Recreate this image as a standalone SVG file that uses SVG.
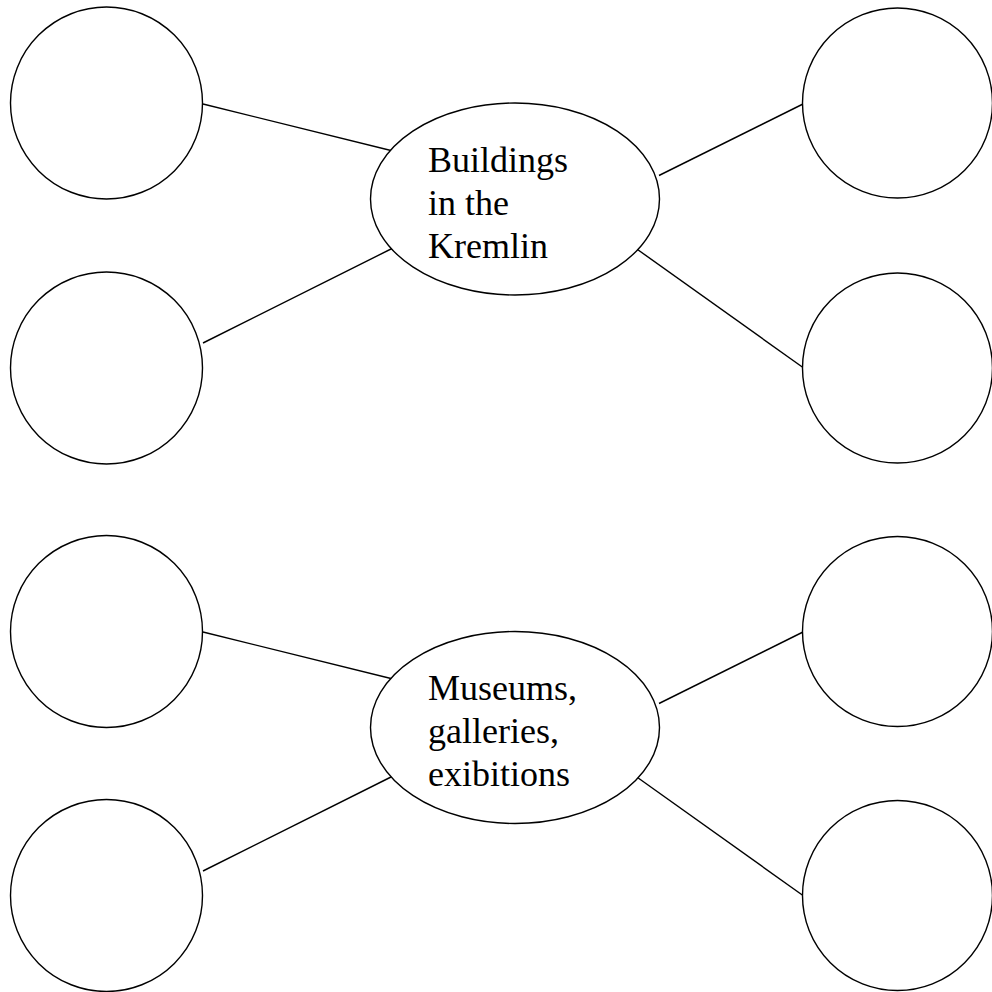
<svg xmlns="http://www.w3.org/2000/svg" width="992" height="992" viewBox="0 0 992 992">
  <style>
    .node { fill: #ffffff; stroke: #000000; stroke-width: 1.4; }
    .edge { stroke: #000000; stroke-width: 1.4; fill: none; }
    .label { font-family: "Liberation Serif", "Times New Roman", serif; font-size: 36px; fill: #000000; }
  </style>
  <rect width="992" height="992" fill="#ffffff"/>

  <!-- connectors -->
  <g id="connectors">
    <line class="edge" x1="203" y1="104" x2="395" y2="151.5"/>
    <line class="edge" x1="203" y1="343" x2="395" y2="247"/>
    <line class="edge" x1="659" y1="175.5" x2="803" y2="104"/>
    <line class="edge" x1="634" y1="247" x2="803" y2="367.5"/>

    <line class="edge" x1="203" y1="632" x2="395" y2="679.5"/>
    <line class="edge" x1="203" y1="871" x2="395" y2="775"/>
    <line class="edge" x1="659" y1="703.5" x2="803" y2="632"/>
    <line class="edge" x1="634" y1="775" x2="803" y2="895.5"/>
  </g>

  <!-- upper cluster -->
  <g id="center-kremlin">
    <ellipse class="node" cx="515" cy="199" rx="144.5" ry="96"/>
    <text class="label" x="428" y="172">Buildings</text>
    <text class="label" x="428" y="215">in the</text>
    <text class="label" x="428" y="257.5">Kremlin</text>
  </g>
  <g id="kremlin-top-left"><circle class="node" cx="106.5" cy="103" r="96"/></g>
  <g id="kremlin-bottom-left"><circle class="node" cx="106.5" cy="368" r="96"/></g>
  <g id="kremlin-top-right"><circle class="node" cx="897.5" cy="103" r="95"/></g>
  <g id="kremlin-bottom-right"><circle class="node" cx="897.5" cy="368" r="95"/></g>

  <!-- lower cluster -->
  <g id="center-museums">
    <ellipse class="node" cx="515" cy="727.5" rx="144.5" ry="96"/>
    <text class="label" x="428" y="700">Museums,</text>
    <text class="label" x="428" y="743">galleries,</text>
    <text class="label" x="428" y="785.5">exibitions</text>
  </g>
  <g id="museums-top-left"><circle class="node" cx="106.5" cy="631.5" r="96"/></g>
  <g id="museums-bottom-left"><circle class="node" cx="106.5" cy="895.5" r="96"/></g>
  <g id="museums-top-right"><circle class="node" cx="897.5" cy="631.5" r="95"/></g>
  <g id="museums-bottom-right"><circle class="node" cx="897.5" cy="895.5" r="95"/></g>
</svg>
